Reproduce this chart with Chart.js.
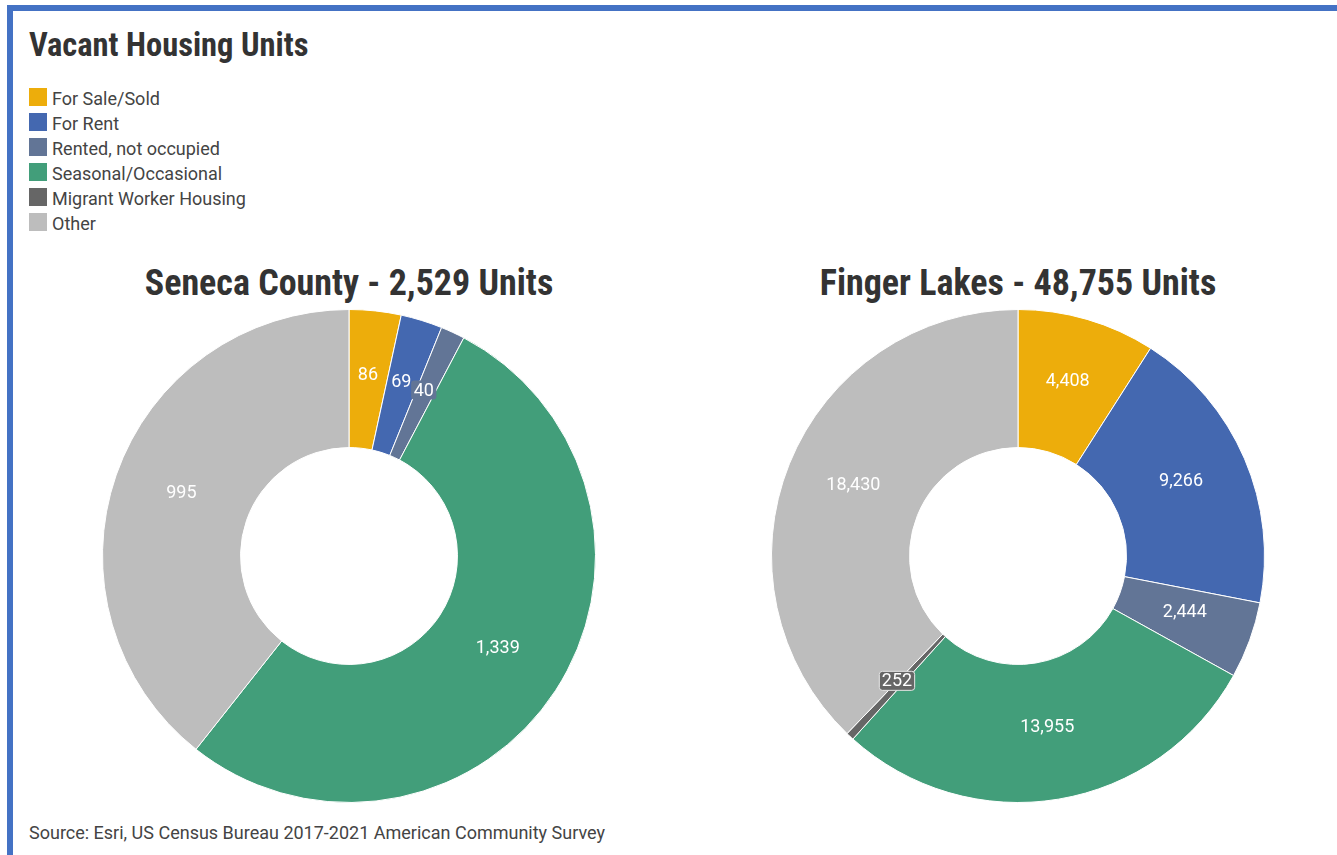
<!DOCTYPE html>
<html>
<head>
<meta charset="utf-8">
<script src="https://cdn.jsdelivr.net/npm/chart.js@4"></script>
<style>
  body { margin: 0; background: #fff; width: 1337px; height: 855px; overflow: hidden; font-family: Roboto, sans-serif; }
  .frame { position: absolute; left: 7px; top: 5px; width: 1400px; height: 900px; border-left: 6px solid #4472c4; border-top: 6px solid #4472c4; }
  .title { position: absolute; left: 29px; top: 26px; font-size: 32.5px; font-weight: bold; color: #333; font-stretch: condensed; white-space: nowrap; }
  .legend { position: absolute; left: 29px; top: 88px; }
  .legend div { height: 25px; font-size: 18px; color: #444; white-space: nowrap; position: relative; }
  .legend span { display: inline-block; width: 18px; height: 18px; vertical-align: top; margin-right: 5px; margin-top: 0px; }
  .ctitle { position: absolute; top: 262px; width: 600px; text-align: center; font-size: 36px; font-weight: bold; color: #333; font-stretch: condensed; white-space: nowrap; }
  .source { position: absolute; left: 29px; top: 822px; font-size: 18px; color: #444; white-space: nowrap; }
  .wrap { position: absolute; top: 309px; width: 494px; height: 494px; }
</style>
</head>
<body>
<div class="frame"></div>
<div class="title">Vacant Housing Units</div>
<div class="legend" id="legend"></div>
<div class="ctitle" style="left:49px">Seneca County - 2,529 Units</div>
<div class="ctitle" style="left:718px">Finger Lakes - 48,755 Units</div>
<div class="wrap" style="left:102px"><canvas id="seneca"></canvas></div>
<div class="wrap" style="left:771px"><canvas id="fingerLakes"></canvas></div>
<div class="source">Source: Esri, US Census Bureau 2017-2021 American Community Survey</div>
<script>
const categories = ['For Sale/Sold', 'For Rent', 'Rented, not occupied', 'Seasonal/Occasional', 'Migrant Worker Housing', 'Other'];
const colors = ['#edad0b', '#4468b0', '#627596', '#429e7a', '#666666', '#bdbdbd'];
const senecaValues = [86, 69, 40, 1339, 0, 995];
const fingerLakesValues = [4408, 9266, 2444, 13955, 252, 18430];

// legend
const legend = document.getElementById('legend');
categories.forEach((c, i) => {
  const row = document.createElement('div');
  row.innerHTML = `<span style="background:${colors[i]}"></span>${c}`;
  legend.appendChild(row);
});

// draw values in the middle of each slice
const sliceLabels = {
  id: 'sliceLabels',
  afterDatasetsDraw(chart) {
    const ctx = chart.ctx;
    const meta = chart.getDatasetMeta(0);
    const data = chart.data.datasets[0].data;
    ctx.save();
    ctx.font = '18px Roboto';
    ctx.textAlign = 'center';
    ctx.textBaseline = 'middle';
    meta.data.forEach((arc, i) => {
      const v = data[i];
      if (!v) return;
      const pos = arc.tooltipPosition();
      const y = pos.y - 5;
      const text = v.toLocaleString('en-US');
      const span = arc.endAngle - arc.startAngle;
      // thin slices get a little box so the text stays readable
      if (span < 0.12) {
        const w = ctx.measureText(text).width + 5;
        const h = 19;
        ctx.fillStyle = colors[i];
        ctx.beginPath();
        ctx.roundRect(pos.x - w / 2, y - h / 2, w, h, 3);
        ctx.fill();
        if (span < 0.05) {
          ctx.strokeStyle = '#e6e6e6';
          ctx.lineWidth = 1;
          ctx.stroke();
        }
      }
      ctx.fillStyle = '#fff';
      ctx.fillText(text, pos.x, y + 1);
    });
    ctx.restore();
  }
};

function makeChart(id, values) {
  return new Chart(document.getElementById(id), {
    type: 'doughnut',
    data: {
      labels: categories,
      datasets: [{
        data: values,
        backgroundColor: colors,
        borderColor: '#fff',
        borderWidth: 1
      }]
    },
    options: {
      responsive: true,
      maintainAspectRatio: false,
      animation: false,
      cutout: '44%',
      layout: { padding: 0 },
      plugins: {
        legend: { display: false },
        tooltip: { enabled: false }
      }
    },
    plugins: [sliceLabels]
  });
}

makeChart('seneca', senecaValues);
makeChart('fingerLakes', fingerLakesValues);
</script>
</body>
</html>
